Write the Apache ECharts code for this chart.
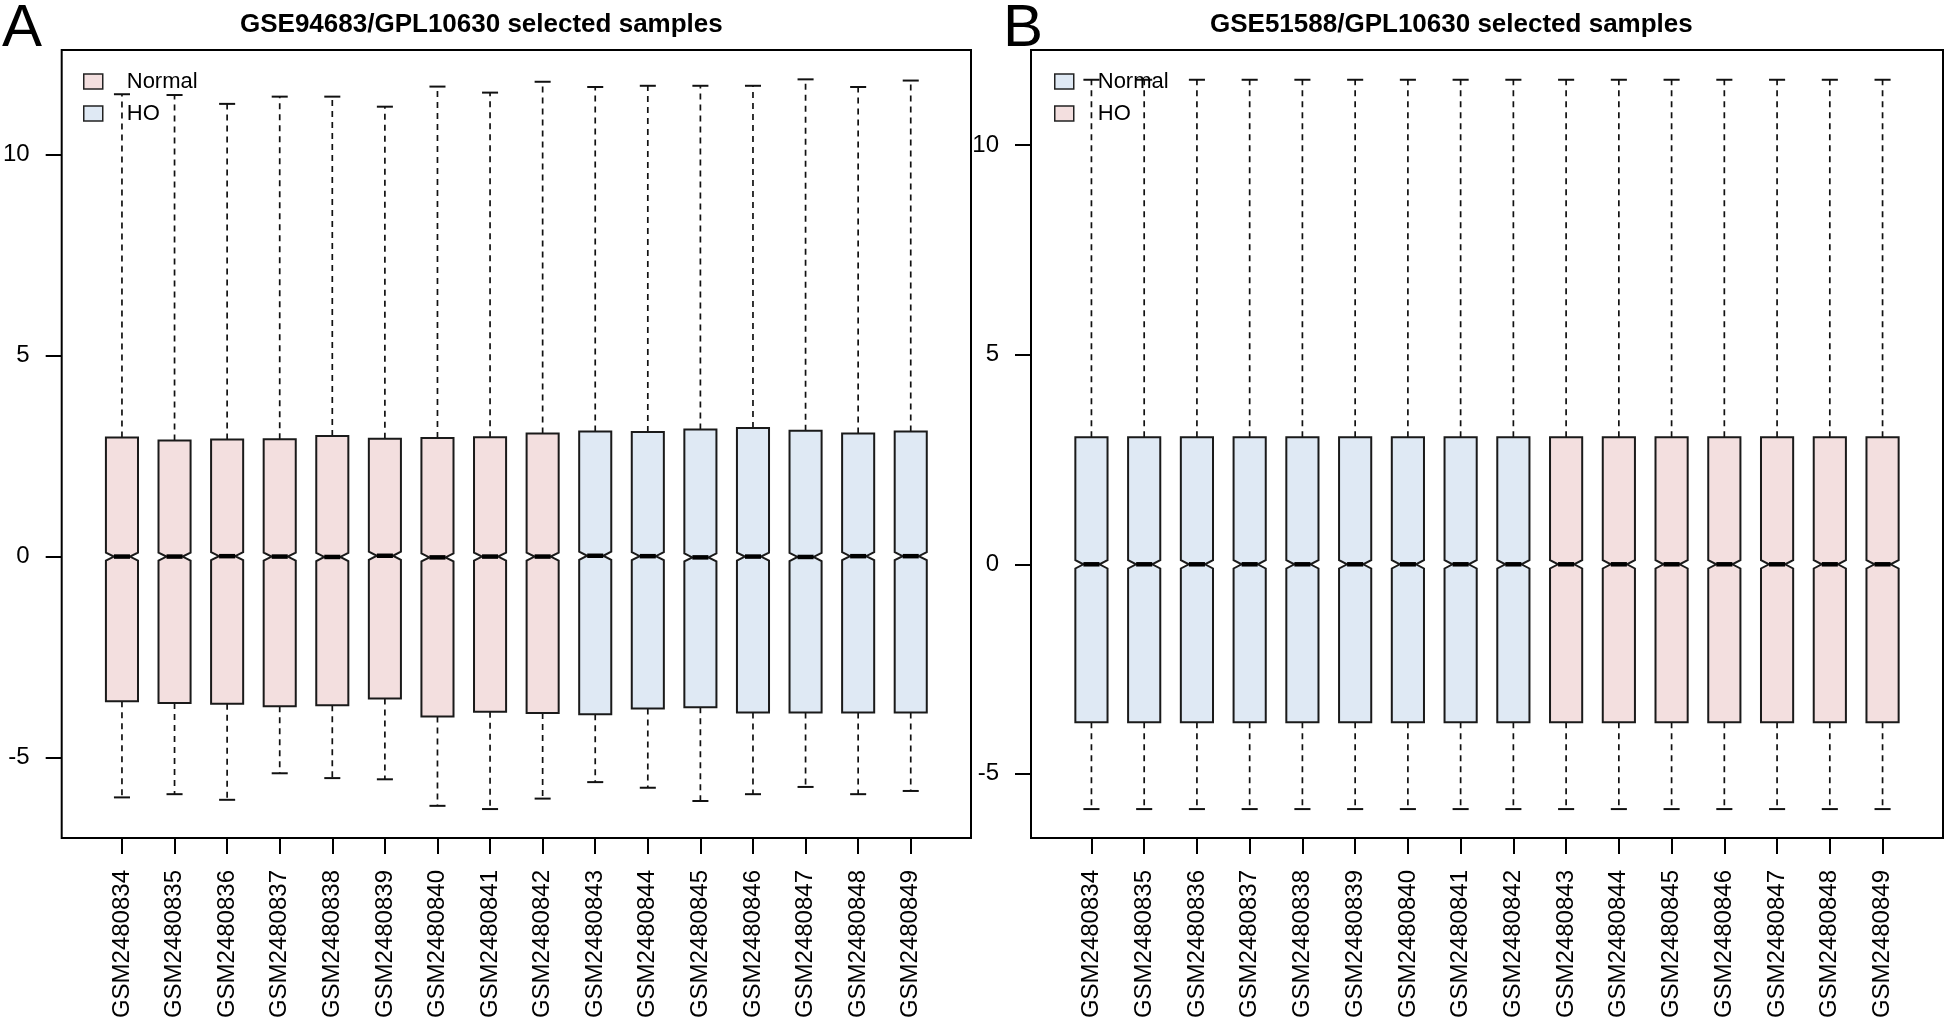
<!DOCTYPE html>
<html>
<head>
<meta charset="utf-8">
<script src="https://cdn.jsdelivr.net/npm/echarts@6/dist/echarts.min.js"></script>
<style>
html, body { margin: 0; padding: 0; background: #fff; }
#chart { width: 1946px; height: 1029px; }
</style>
</head>
<body>
<div id="chart"></div>
<script>
// ---- data ----
const samples = ['GSM2480834','GSM2480835','GSM2480836','GSM2480837','GSM2480838','GSM2480839','GSM2480840','GSM2480841',
                 'GSM2480842','GSM2480843','GSM2480844','GSM2480845','GSM2480846','GSM2480847','GSM2480848','GSM2480849'];
const groups = ['Normal','Normal','Normal','Normal','Normal','Normal','Normal','Normal','Normal',
                'HO','HO','HO','HO','HO','HO','HO'];

// Panel A: GSE94683
const aLower  = [-5.99, -5.91, -6.05, -5.39, -5.51, -5.54, -6.20, -6.28, -6.02, -5.61, -5.75, -6.08, -5.91, -5.73, -5.91, -5.83];
const aQ1     = [-3.60, -3.64, -3.66, -3.72, -3.70, -3.53, -3.98, -3.86, -3.89, -3.92, -3.78, -3.75, -3.88, -3.88, -3.88, -3.88];
const aMedian = [0.00, 0.00, 0.01, 0.00, -0.01, 0.02, -0.02, 0.00, 0.00, 0.02, 0.01, -0.02, 0.00, -0.01, 0.01, 0.01];
const aQ3     = [2.96, 2.89, 2.91, 2.92, 3.00, 2.93, 2.95, 2.97, 3.06, 3.11, 3.10, 3.16, 3.20, 3.13, 3.06, 3.11];
const aUpper  = [11.50, 11.48, 11.26, 11.44, 11.44, 11.19, 11.69, 11.54, 11.81, 11.68, 11.71, 11.71, 11.71, 11.87, 11.68, 11.84];

// Panel B: GSE51588
const bLower  = [-5.84, -5.84, -5.84, -5.84, -5.84, -5.84, -5.84, -5.84, -5.84, -5.84, -5.84, -5.84, -5.84, -5.84, -5.84, -5.84];
const bQ1     = [-3.77, -3.77, -3.77, -3.77, -3.77, -3.77, -3.77, -3.77, -3.77, -3.77, -3.77, -3.77, -3.77, -3.77, -3.77, -3.77];
const bMedian = [0.00, 0.00, 0.00, 0.00, 0.00, 0.00, 0.00, 0.00, 0.00, 0.00, 0.00, 0.00, 0.00, 0.00, 0.00, 0.00];
const bQ3     = [3.03, 3.03, 3.03, 3.03, 3.03, 3.03, 3.03, 3.03, 3.03, 3.03, 3.03, 3.03, 3.03, 3.03, 3.03, 3.03];
const bUpper  = [11.56, 11.56, 11.56, 11.56, 11.56, 11.56, 11.56, 11.56, 11.56, 11.56, 11.56, 11.56, 11.56, 11.56, 11.56, 11.56];

const yTicks = [-5, 0, 5, 10];
const titleA = 'GSE94683/GPL10630 selected samples';
const titleB = 'GSE51588/GPL10630 selected samples';

// ---- styling ----
const PINK = '#F3DFDF';
const BLUE = '#DFE9F4';
const FONT = '"Liberation Sans", Arial, Helvetica, sans-serif';
const NOTCH = 0.1;

function renderBox(params, api) {
  const x = api.value(0);
  const lo = api.value(1), q1 = api.value(2), med = api.value(3), q3 = api.value(4), hi = api.value(5);
  const cx = api.coord([x, med])[0];
  const unit = api.size([1, 0])[0];
  const hw = unit * 0.305;
  const nw = hw / 2;
  const yLo = api.coord([x, lo])[1];
  const yQ1 = api.coord([x, q1])[1];
  const yMed = api.coord([x, med])[1];
  const yQ3 = api.coord([x, q3])[1];
  const yHi = api.coord([x, hi])[1];
  const ny = api.size([0, NOTCH])[1];
  const dash = { stroke: '#111', lineWidth: 1.7, lineDash: [6, 5] };
  const solid = { stroke: '#111', lineWidth: 2 };
  return {
    type: 'group',
    children: [
      { type: 'line', shape: { x1: cx, y1: yQ3, x2: cx, y2: yHi }, style: dash },
      { type: 'line', shape: { x1: cx - nw, y1: yHi, x2: cx + nw, y2: yHi }, style: solid },
      { type: 'line', shape: { x1: cx, y1: yQ1, x2: cx, y2: yLo }, style: dash },
      { type: 'line', shape: { x1: cx - nw, y1: yLo, x2: cx + nw, y2: yLo }, style: solid },
      { type: 'polygon', shape: { points: [
          [cx - hw, yQ1], [cx + hw, yQ1], [cx + hw, yMed + ny], [cx + nw, yMed], [cx + hw, yMed - ny],
          [cx + hw, yQ3], [cx - hw, yQ3], [cx - hw, yMed - ny], [cx - nw, yMed], [cx - hw, yMed + ny]
        ] }, style: { fill: api.visual('color'), stroke: '#1a1a1a', lineWidth: 2 } },
      { type: 'line', shape: { x1: cx - nw, y1: yMed, x2: cx + nw, y2: yMed }, style: { stroke: '#000', lineWidth: 4.5 } }
    ]
  };
}

function buildData(group, lo, q1, med, q3, hi) {
  const out = [];
  for (let i = 0; i < samples.length; i++) {
    if (groups[i] === group) out.push([i, lo[i], q1[i], med[i], q3[i], hi[i]]);
  }
  return out;
}

const idx = samples.map((s, i) => i);

function xAxisFor(gridIndex) {
  return {
    type: 'value', gridIndex: gridIndex, min: -1.146, max: 16.146,
    axisLine: { show: false, onZero: false },
    splitLine: { show: false },
    axisTick: { show: true, customValues: idx, length: 16, lineStyle: { color: '#000', width: 2 } },
    axisLabel: { customValues: idx, formatter: v => samples[Math.round(v)], rotate: 90, margin: 32,
                 fontSize: 24, color: '#000', fontFamily: FONT }
  };
}
function yAxisFor(gridIndex, min, max) {
  return {
    type: 'value', gridIndex: gridIndex, min: min, max: max,
    axisLine: { show: false, onZero: false },
    splitLine: { show: false },
    axisTick: { show: true, customValues: yTicks, length: 16, lineStyle: { color: '#000', width: 2 } },
    axisLabel: { customValues: yTicks, margin: 32, fontSize: 24, color: '#000', fontFamily: FONT }
  };
}
function legendFor(left, normalColor, hoColor) {
  return {
    orient: 'vertical', left: left, top: 70.5, padding: 0, itemGap: 10,
    itemWidth: 19, itemHeight: 15, icon: 'rect', selectedMode: false,
    textStyle: { fontSize: 22, color: '#000', fontFamily: FONT, padding: [0, 0, 0, 19] },
    data: [
      { name: 'Normal', itemStyle: { color: normalColor, borderColor: '#222', borderWidth: 1.5 } },
      { name: 'HO', itemStyle: { color: hoColor, borderColor: '#222', borderWidth: 1.5 } }
    ]
  };
}

const chart = echarts.init(document.getElementById('chart'), null, { renderer: 'canvas' });
chart.setOption({
  backgroundColor: '#fff',
  animation: false,
  title: [
    { text: titleA, left: 240, top: 12, padding: 0, textStyle: { fontSize: 26, fontWeight: 'bold', color: '#000', fontFamily: FONT } },
    { text: titleB, left: 1210, top: 12, padding: 0, textStyle: { fontSize: 26, fontWeight: 'bold', color: '#000', fontFamily: FONT } },
    { text: 'A', left: 2, top: -1, padding: 0, textStyle: { fontSize: 60, fontWeight: 'normal', color: '#000', fontFamily: FONT } },
    { text: 'B', left: 1003, top: -1, padding: 0, textStyle: { fontSize: 60, fontWeight: 'normal', color: '#000', fontFamily: FONT } }
  ],
  legend: [ legendFor(83, PINK, BLUE), legendFor(1054, BLUE, PINK) ],
  grid: [
    { left: 60, top: 50, width: 911, height: 788, show: true, borderColor: '#000', borderWidth: 2, backgroundColor: 'transparent', containLabel: false },
    { left: 1031, top: 50, width: 912, height: 788, show: true, borderColor: '#000', borderWidth: 2, backgroundColor: 'transparent', containLabel: false }
  ],
  xAxis: [ xAxisFor(0), xAxisFor(1) ],
  yAxis: [ yAxisFor(0, -7.0, 12.6), yAxisFor(1, -6.53, 12.27) ],
  series: [
    { type: 'custom', name: 'Normal', xAxisIndex: 0, yAxisIndex: 0, itemStyle: { color: PINK }, renderItem: renderBox,
      encode: { x: 0, y: [1, 2, 3, 4, 5] }, data: buildData('Normal', aLower, aQ1, aMedian, aQ3, aUpper) },
    { type: 'custom', name: 'HO', xAxisIndex: 0, yAxisIndex: 0, itemStyle: { color: BLUE }, renderItem: renderBox,
      encode: { x: 0, y: [1, 2, 3, 4, 5] }, data: buildData('HO', aLower, aQ1, aMedian, aQ3, aUpper) },
    { type: 'custom', name: 'Normal', xAxisIndex: 1, yAxisIndex: 1, itemStyle: { color: BLUE }, renderItem: renderBox,
      encode: { x: 0, y: [1, 2, 3, 4, 5] }, data: buildData('Normal', bLower, bQ1, bMedian, bQ3, bUpper) },
    { type: 'custom', name: 'HO', xAxisIndex: 1, yAxisIndex: 1, itemStyle: { color: PINK }, renderItem: renderBox,
      encode: { x: 0, y: [1, 2, 3, 4, 5] }, data: buildData('HO', bLower, bQ1, bMedian, bQ3, bUpper) }
  ]
});
</script>
</body>
</html>
